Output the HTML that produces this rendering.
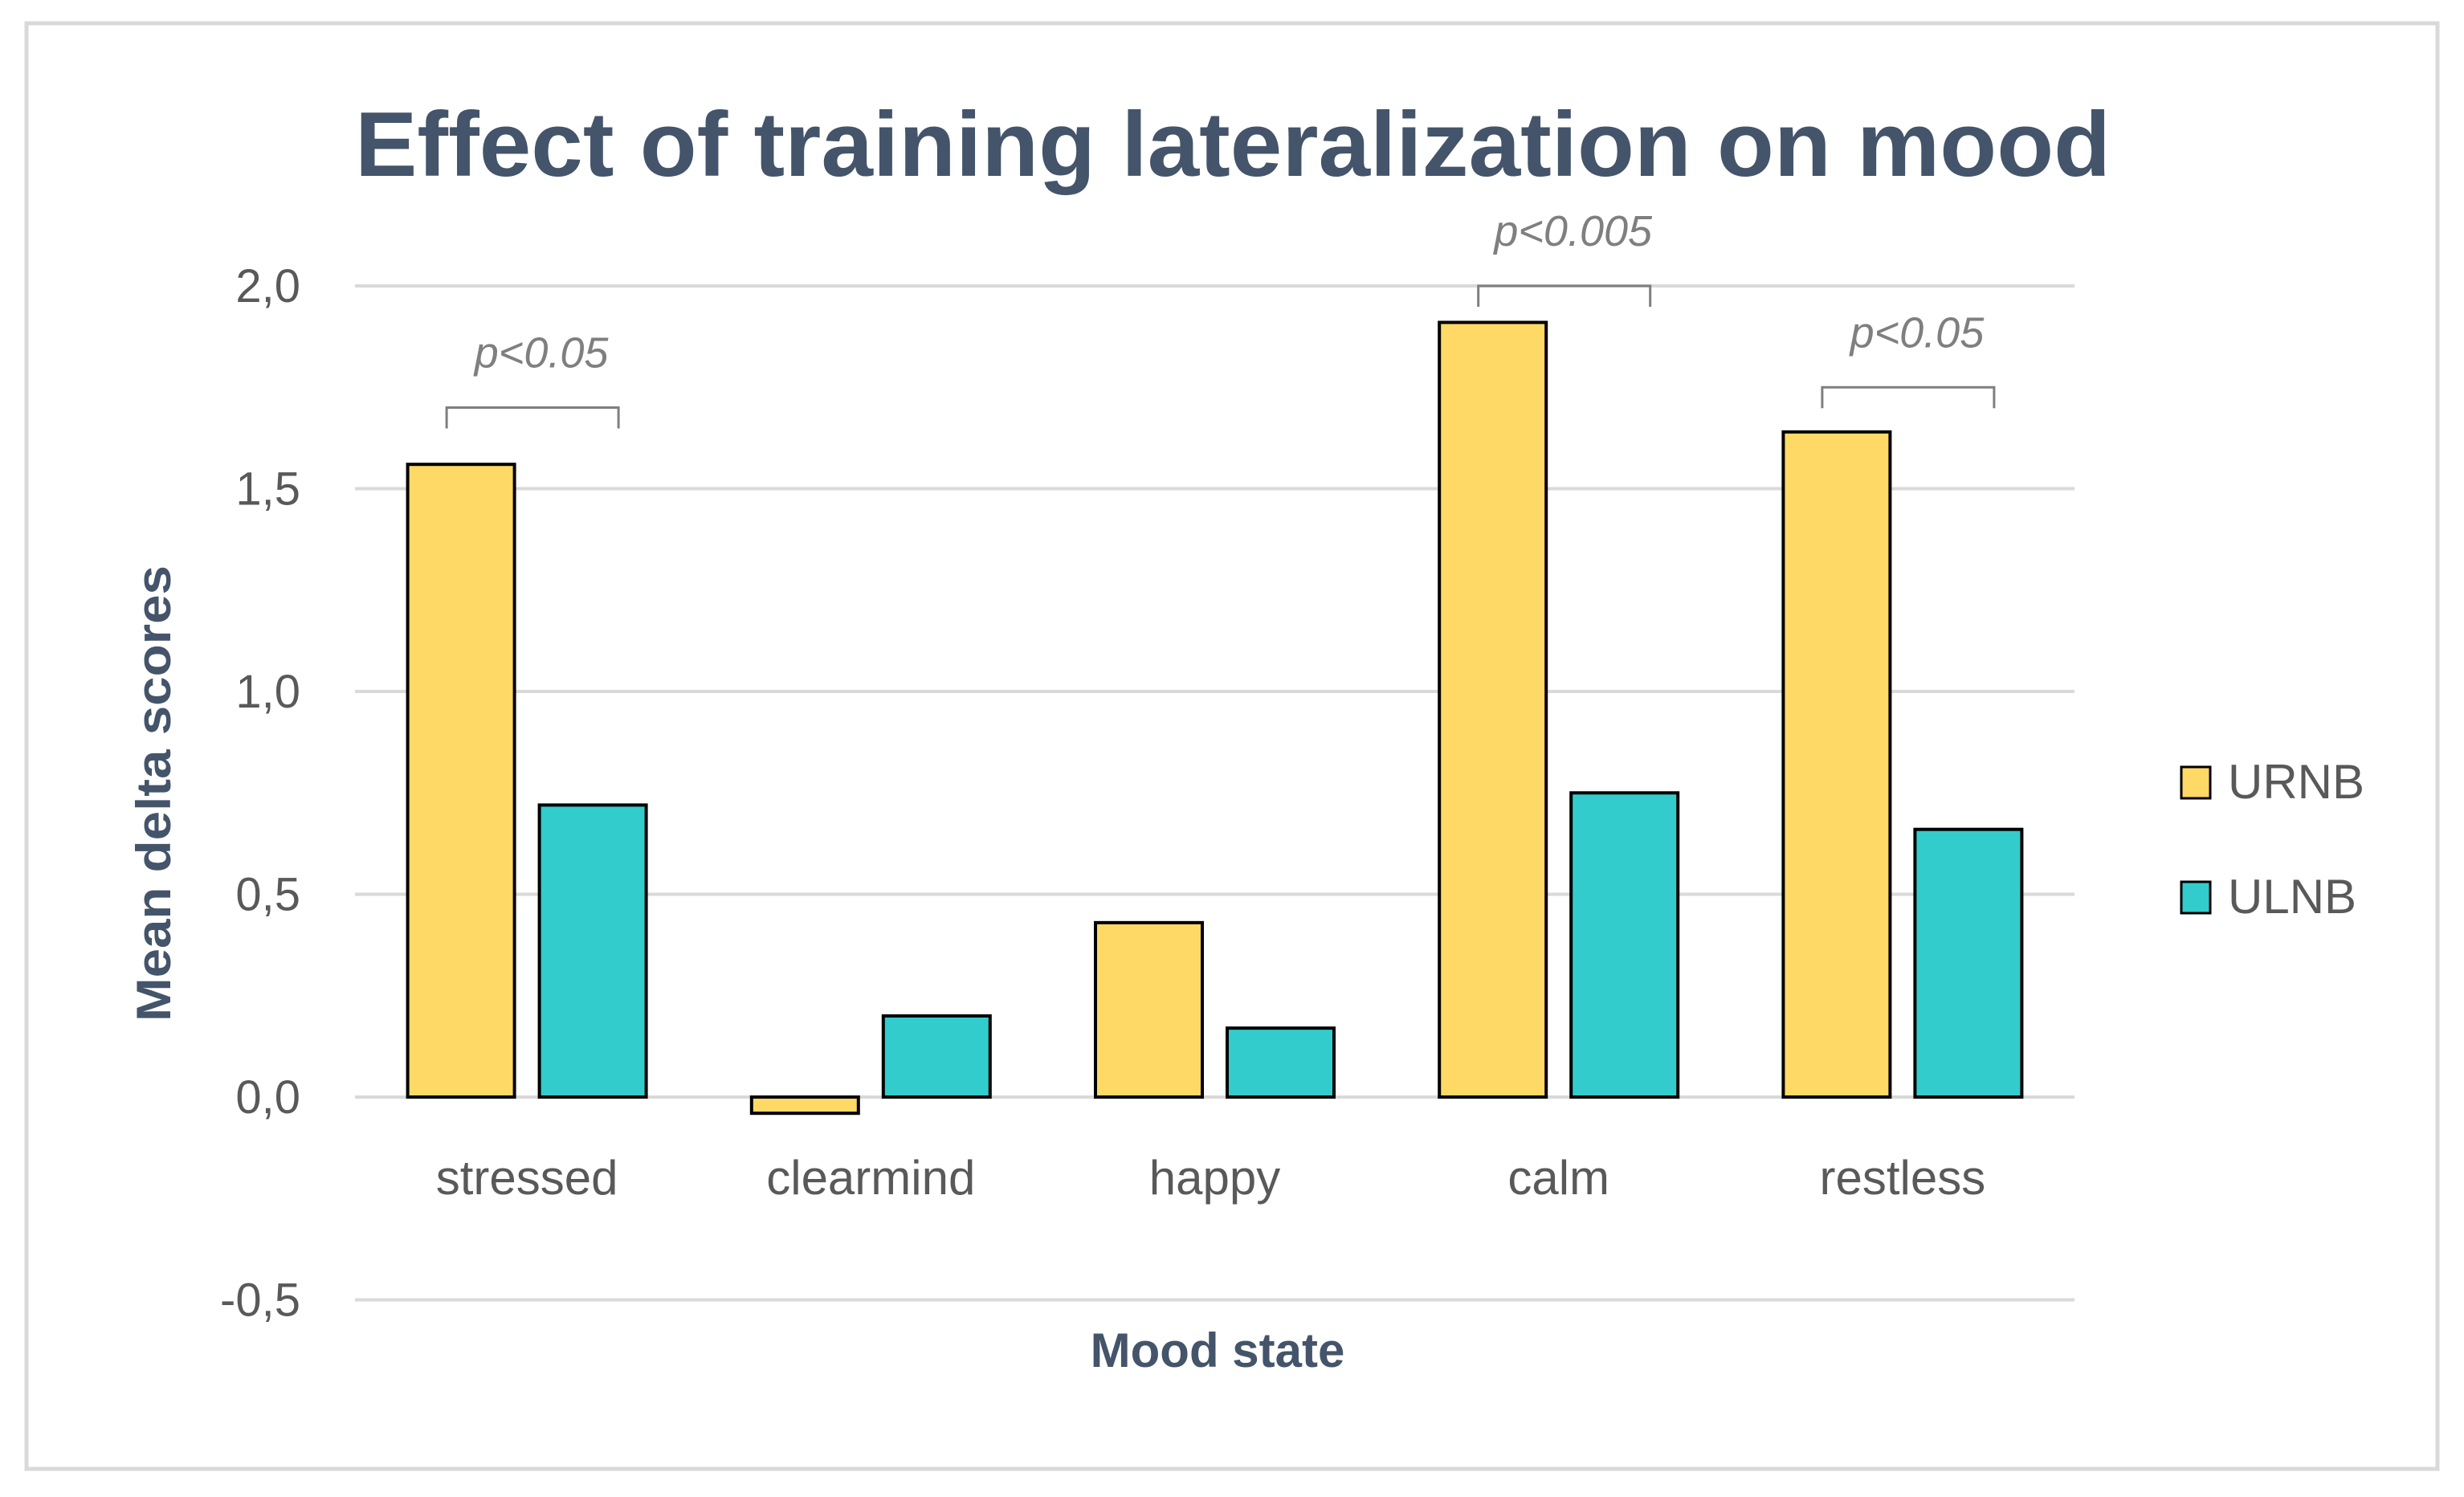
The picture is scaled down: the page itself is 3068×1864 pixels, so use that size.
<!DOCTYPE html>
<html><head><meta charset="utf-8"><style>
html,body{margin:0;padding:0;background:#fff}
svg{display:block}
text{font-family:"Liberation Sans",sans-serif}
</style></head><body>
<svg id="chart" width="3068" height="1864" viewBox="0 0 3068 1864" xmlns="http://www.w3.org/2000/svg">
<rect x="33" y="29" width="3002" height="1800" fill="#fff" stroke="#d9d9d9" stroke-width="5"/>
<text x="442" y="219" font-size="114" font-weight="bold" fill="#44546a" textLength="2186" lengthAdjust="spacingAndGlyphs">Effect of training lateralization on mood</text>
<g id="grid"></g>
<g id="bars"></g>
<g id="labels"></g>
<text transform="translate(212,988) rotate(-90)" text-anchor="middle" font-size="60" font-weight="bold" fill="#44546a" textLength="568" lengthAdjust="spacingAndGlyphs">Mean delta scores</text>
<text x="1516" y="1702" text-anchor="middle" font-size="60" font-weight="bold" fill="#44546a">Mood state</text>
<g>
<rect x="2716" y="955" width="36" height="39" fill="#ffd966" stroke="#000" stroke-width="3"/>
<text x="2774" y="994" font-size="60" fill="#595959">URNB</text>
<rect x="2716" y="1098" width="36" height="39" fill="#33cccc" stroke="#000" stroke-width="3"/>
<text x="2774" y="1137" font-size="60" fill="#595959">ULNB</text>
</g>
</svg>
<script>
const categories = ["stressed","clearmind","happy","calm","restless"];
const urnb = [1.56, -0.04, 0.43, 1.91, 1.64];
const ulnb = [0.72, 0.20, 0.17, 0.75, 0.66];
const yTicks = [2.0, 1.5, 1.0, 0.5, 0.0, -0.5];
const yTickLabels = ["2,0","1,5","1,0","0,5","0,0","-0,5"];
const sigCategories = [0, 3, 4];
const sigLabels = ["p<0.05","p<0.005","p<0.05"];
const sigLevels = [1.70, 2.0, 1.75];

const NS = "http://www.w3.org/2000/svg";
const plotL = 442, plotR = 2583, y0px = 1366, pxPerUnit = 505;
const catW = (plotR - plotL) / categories.length;
function yScale(v){ return y0px - v * pxPerUnit; }
function xCenter(i){ return plotL + catW * (i + 0.5); }
function mk(tag, attrs, parent){ const e = document.createElementNS(NS, tag); for (const k in attrs) e.setAttribute(k, attrs[k]); parent.appendChild(e); return e; }

const grid = document.getElementById('grid');
const labels = document.getElementById('labels');
const bars = document.getElementById('bars');
yTicks.forEach((t, i) => {
  const l = mk('line', {x1: plotL, x2: plotR, y1: yScale(t), y2: yScale(t), stroke: '#d9d9d9', 'stroke-width': 4}, grid);
  
  
  const tx = mk('text', {x: 374, y: yScale(t) + 20, 'text-anchor': 'end', 'font-size': 58, fill: '#595959'}, labels);
  tx.textContent = yTickLabels[i];
  
  
});
const bw = 133, gap = 31;
categories.forEach((c, i) => {
  const cx = xCenter(i);
  const vals = [urnb[i], ulnb[i]];
  const fills = ['#ffd966', '#33cccc'];
  vals.forEach((v, j) => {
    const x = cx - gap/2 - bw + j * (bw + gap);
    const top = Math.min(yScale(v), y0px), h = Math.abs(yScale(v) - y0px);
    const r = mk('rect', {x: x, y: top, width: bw, height: h, fill: fills[j], stroke: '#000', 'stroke-width': 4}, bars);
    
    
  });
  const tx = mk('text', {x: cx, y: 1487, 'text-anchor': 'middle', 'font-size': 60, fill: '#595959'}, labels);
  tx.textContent = c;
  
  
});
sigCategories.forEach((ci, k) => {
  const cx = xCenter(ci);
  const yt = yScale(sigLevels[k]);
  const p = mk('path', {d: `M${cx-100} ${yt+26} V${yt} H${cx+114} V${yt+26}`, fill: 'none', stroke: '#7f7f7f', 'stroke-width': 3}, labels);
  
  
  const t = mk('text', {x: cx + 18, y: yt - 50, 'text-anchor': 'middle', 'font-size': 54, 'font-style': 'italic', fill: '#7f7f7f'}, labels);
  t.textContent = sigLabels[k];
  
  
});
</script>
</body></html>
